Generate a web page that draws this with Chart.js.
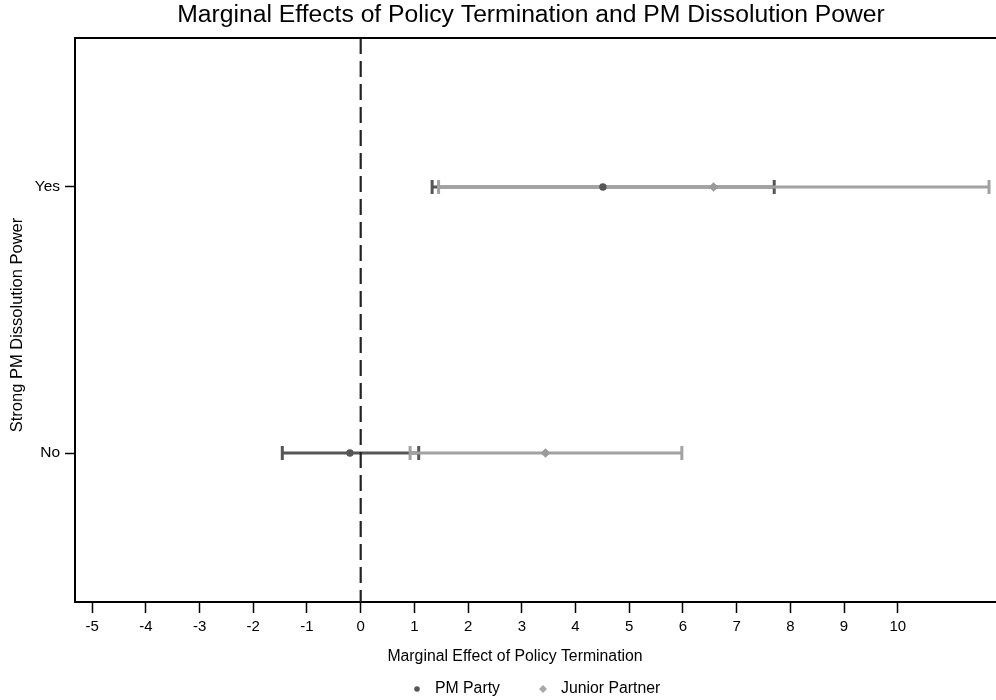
<!DOCTYPE html>
<html>
<head>
<meta charset="utf-8">
<script src="https://cdn.jsdelivr.net/npm/chart.js@4"></script>
<style>
  html, body { margin: 0; padding: 0; background: #fff; }
  #wrap { width: 996px; height: 700px; }
</style>
</head>
<body>
<div id="wrap"><canvas id="chart" width="996" height="700"></canvas></div>
<script>
// Datos
const categories = ['No', 'Yes'];        // Strong PM Dissolution Power
const catValues = [1, 2];
const pmEffect = [-0.20, 4.51];
const pmLow = [-1.46, 1.33];
const pmHigh = [1.08, 7.70];
const jpEffect = [3.44, 6.57];
const jpLow = [0.92, 1.45];
const jpHigh = [5.98, 11.70];
const xTicks = [-5, -4, -3, -2, -1, 0, 1, 2, 3, 4, 5, 6, 7, 8, 9, 10];

const DARK = '#565656';
const LIGHT = '#a2a2a2';
const FONT = "'Liberation Sans', Arial, Helvetica, sans-serif";

// Construir segmentos de intervalos (con topes verticales)
function ciDatasets(low, high, color, order) {
    return catValues.map((y, i) => ({
        type: 'line',
        order: order,
        data: [{ x: low[i], y: y }, { x: high[i], y: y }],
        borderColor: color,
        borderWidth: 3,
        pointStyle: 'line',
        pointRotation: 90,
        pointRadius: 7,
        pointBorderWidth: 3,
        pointBorderColor: color,
        pointHoverRadius: 7,
        fill: false
    }));
}

const datasets = [
    ...ciDatasets(pmLow, pmHigh, DARK, 4),
    ...ciDatasets(jpLow, jpHigh, LIGHT, 3),
    {
        type: 'scatter',
        order: 2,
        data: catValues.map((y, i) => ({ x: pmEffect[i], y: y })),
        pointStyle: 'circle',
        pointRadius: 3.7,
        backgroundColor: DARK,
        borderColor: DARK,
        borderWidth: 0
    },
    {
        type: 'scatter',
        order: 1,
        data: catValues.map((y, i) => ({ x: jpEffect[i], y: y })),
        pointStyle: 'rectRot',
        pointRadius: 4.8,
        backgroundColor: '#9a9a9a',
        borderColor: '#9a9a9a',
        borderWidth: 0
    }
];

// Textos, marco y línea de referencia
const decor = {
    id: 'decor',
    afterDatasetsDraw(chart) {
        const { ctx, chartArea: a, scales } = chart;
        ctx.save();
        // línea discontinua en x = 0
        const x0 = scales.x.getPixelForValue(0);
        ctx.strokeStyle = '#222';
        ctx.lineWidth = 2.2;
        ctx.setLineDash([16, 7]);
        ctx.beginPath();
        ctx.moveTo(x0, a.top);
        ctx.lineTo(x0, a.bottom);
        ctx.stroke();
        ctx.setLineDash([]);
        // borde superior
        ctx.strokeStyle = '#000';
        ctx.lineWidth = 2;
        ctx.beginPath();
        ctx.moveTo(a.left - 1, a.top);
        ctx.lineTo(a.right, a.top);
        ctx.stroke();
        // título
        ctx.fillStyle = '#000';
        ctx.textAlign = 'center';
        ctx.textBaseline = 'middle';
        ctx.font = '24.7px ' + FONT;
        ctx.fillText('Marginal Effects of Policy Termination and PM Dissolution Power', 531, 15);
        // título eje x
        ctx.font = '15.8px ' + FONT;
        ctx.fillText('Marginal Effect of Policy Termination', 515, 657);
        // título eje y
        ctx.save();
        ctx.translate(17, 325);
        ctx.rotate(-Math.PI / 2);
        ctx.font = '16.5px ' + FONT;
        ctx.fillText('Strong PM Dissolution Power', 0, 0);
        ctx.restore();
        // leyenda
        ctx.font = '15.8px ' + FONT;
        ctx.fillStyle = DARK;
        ctx.beginPath();
        ctx.arc(417, 689, 2.8, 0, Math.PI * 2);
        ctx.fill();
        ctx.fillStyle = '#a8a8a8';
        ctx.beginPath();
        ctx.moveTo(543, 685);
        ctx.lineTo(547, 689);
        ctx.lineTo(543, 693);
        ctx.lineTo(539, 689);
        ctx.closePath();
        ctx.fill();
        ctx.fillStyle = '#000';
        ctx.textAlign = 'left';
        ctx.fillText('PM Party', 435, 689);
        ctx.fillText('Junior Partner', 561, 689);
        ctx.restore();
    }
};

new Chart(document.getElementById('chart'), {
    type: 'scatter',
    data: { datasets: datasets },
    plugins: [decor],
    options: {
        responsive: false,
        animation: false,
        layout: { autoPadding: false, padding: { top: 38, right: 0, left: 0, bottom: 0 } },
        plugins: {
            legend: { display: false },
            tooltip: { enabled: false },
            title: { display: false }
        },
        scales: {
            x: {
                type: 'linear',
                min: -5.32,
                max: 11.83,
                afterBuildTicks: s => { s.ticks = xTicks.map(v => ({ value: v })); },
                afterFit: s => { s.height = 98; },
                border: { display: true, color: '#000', width: 2 },
                grid: { drawOnChartArea: false, drawTicks: true, tickLength: 11, tickColor: '#000', tickWidth: 1.5 },
                ticks: { color: '#000', font: { family: FONT, size: 15 }, padding: 5, maxRotation: 0 }
            },
            y: {
                type: 'linear',
                min: 0.44,
                max: 2.56,
                afterBuildTicks: s => { s.ticks = catValues.map(v => ({ value: v })); },
                afterFit: s => { s.width = 75; },
                border: { display: true, color: '#000', width: 2 },
                grid: { drawOnChartArea: false, drawTicks: true, tickLength: 10, tickColor: '#000', tickWidth: 1.5 },
                ticks: {
                    color: '#000',
                    font: { family: FONT, size: 15.5 },
                    padding: 5,
                    callback: v => categories[catValues.indexOf(v)]
                }
            }
        }
    }
});
</script>
</body>
</html>
